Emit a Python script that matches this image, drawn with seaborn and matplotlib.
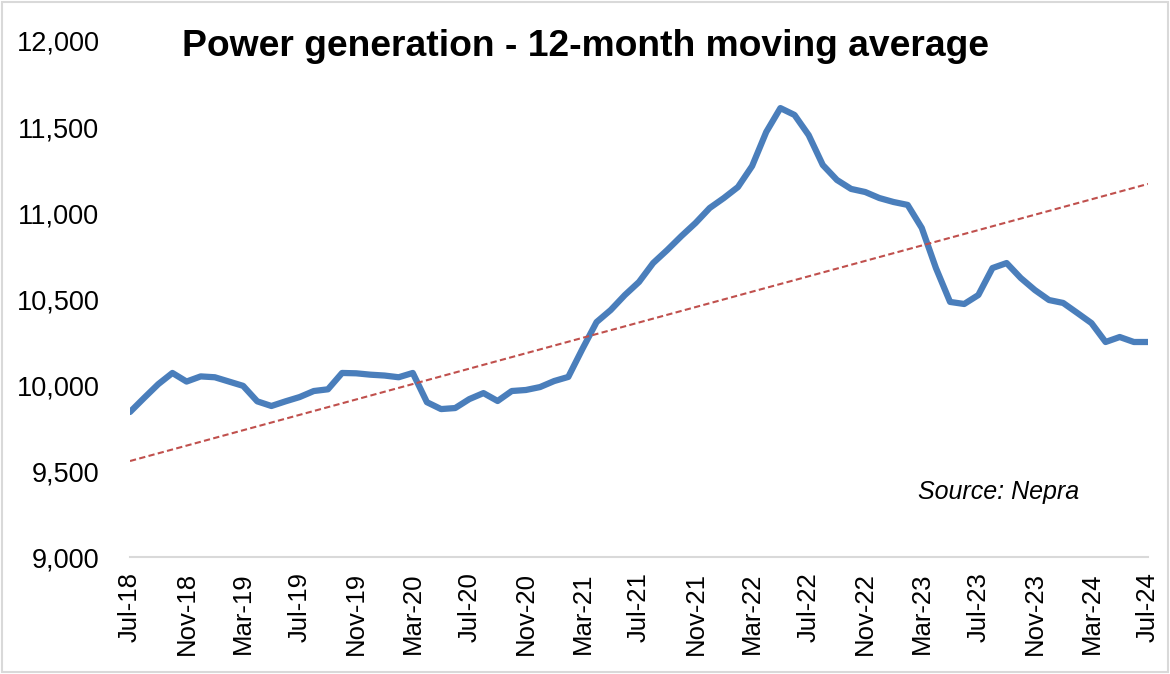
import numpy as np
import pandas as pd
import seaborn as sns
import matplotlib.pyplot as plt
from matplotlib.patches import FancyBboxPatch

# Datos (promedio movil 12 meses, Jul-18 a Jul-24)
meses = pd.date_range("2018-07-01", "2024-07-01", freq="MS")
generacion = [
    9843, 9925, 10005, 10070, 10020, 10050,                                  # 2018
    10045, 10020, 9995, 9905, 9878, 9905, 9930, 9965, 9975, 10070, 10068, 10060,   # 2019
    10055, 10045, 10070, 9900, 9860, 9866, 9918, 9953, 9907, 9965, 9971, 9988,     # 2020
    10023, 10047, 10210, 10366, 10436, 10523, 10599, 10709, 10785, 10866, 10942, 11029,  # 2021
    11087, 11151, 11273, 11471, 11610, 11570, 11453, 11279, 11192, 11140, 11122, 11087,  # 2022
    11064, 11047, 10913, 10680, 10483, 10471, 10523, 10680, 10709, 10622, 10552, 10494,  # 2023
    10477, 10419, 10360, 10250, 10279, 10250, 10250,                          # 2024
]
# linea de tendencia (extremos, Jul-18 y Jul-24)
tendencia = [9558, 11169]
etiquetas_x = ["Jul-18", "Nov-18", "Mar-19", "Jul-19", "Nov-19", "Mar-20", "Jul-20",
               "Nov-20", "Mar-21", "Jul-21", "Nov-21", "Mar-22", "Jul-22", "Nov-22",
               "Mar-23", "Jul-23", "Nov-23", "Mar-24", "Jul-24"]
ticks_y = [9000, 9500, 10000, 10500, 11000, 11500, 12000]

df = pd.DataFrame({"mes": np.arange(len(meses)), "generacion": generacion})
df_tend = pd.DataFrame({"mes": [0, len(meses) - 1], "valor": tendencia})

sns.set_style("white")
plt.rcParams['font.family'] = ['Liberation Sans', 'DejaVu Sans']
plt.rcParams['text.color'] = 'black'
plt.rcParams['xtick.color'] = 'black'
plt.rcParams['ytick.color'] = 'black'

fig = plt.figure(figsize=(11.7, 6.74), dpi=100)
ax = fig.add_axes([130 / 1170, 1 - 557 / 674, (1148 - 130) / 1170, (557 - 41) / 674])

# linea principal
sns.lineplot(data=df, x="mes", y="generacion", ax=ax, color="#4A7EBB", linewidth=4.5)

# linea de tendencia (punteada roja)
sns.lineplot(data=df_tend, x="mes", y="valor", ax=ax, color="#C0504D",
             linestyle=(0, (3, 1.6)), linewidth=1.5)

ax.set_xlim(0, len(meses) - 1)
ax.set_ylim(9000, 12000)
ax.set_xticks(np.arange(0, len(meses), 4))
ax.set_xticklabels(etiquetas_x, rotation=90, fontsize=18.5)
ax.set_yticks(ticks_y)
ax.set_yticklabels([f"{v:,}" for v in ticks_y], fontsize=19.5)
ax.tick_params(axis="x", length=0, pad=11)
ax.tick_params(axis="y", length=0, pad=22)
ax.set_xlabel("")
ax.set_ylabel("")

for lado in ["top", "right", "left"]:
    ax.spines[lado].set_visible(False)
ax.spines["bottom"].set_color("#D9D9D9")
ax.spines["bottom"].set_linewidth(1.5)

fig.text(0.5, 1 - 47 / 674, "Power generation - 12-month moving average",
         ha="center", va="center", fontsize=26.8, fontweight="bold")
fig.text(918 / 1170, 1 - 492 / 674, "Source: Nepra", ha="left", va="center",
         fontsize=18, style="italic")

# borde del grafico
borde = FancyBboxPatch((0.002, 0.003), 0.996, 0.994, boxstyle="square,pad=0",
                       transform=fig.transFigure, fill=False,
                       edgecolor="#D9D9D9", linewidth=1.5)
fig.patches.append(borde)

plt.savefig("out.png", dpi=100)
plt.close()
